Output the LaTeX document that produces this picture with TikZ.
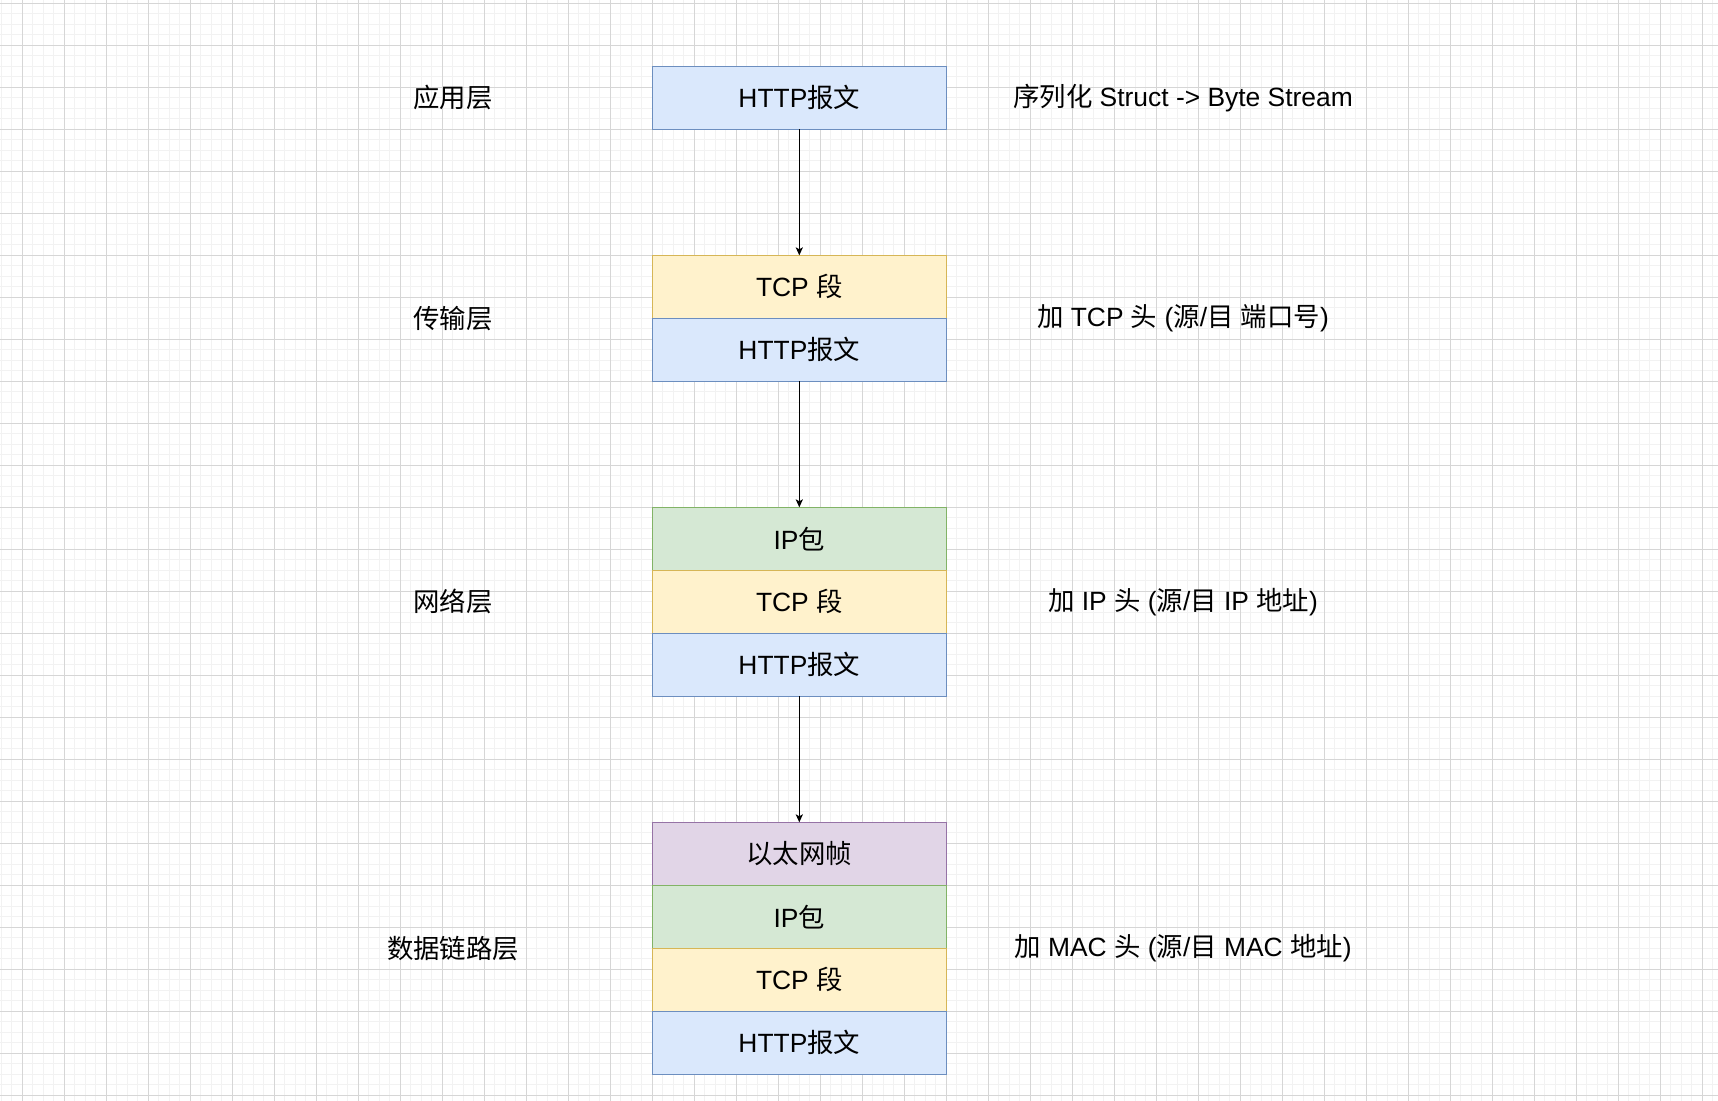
\documentclass[tikz,border=0pt]{standalone}
\usepackage{fontspec}
\setmainfont{Liberation Sans}
\newfontfamily\cjk{Noto Sans CJK SC}
\usepackage{tikz}
\usetikzlibrary{calc,positioning,arrows.meta}

\definecolor{gridminor}{RGB}{242,242,242}
\definecolor{gridmajor}{RGB}{214,214,214}
\definecolor{httpfill}{HTML}{DAE8FC}
\definecolor{httpline}{HTML}{6C8EBF}
\definecolor{tcpfill}{HTML}{FFF2CC}
\definecolor{tcpline}{HTML}{D6B656}
\definecolor{ipfill}{HTML}{D5E8D4}
\definecolor{ipline}{HTML}{82B366}
\definecolor{ethfill}{HTML}{E1D5E7}
\definecolor{ethline}{HTML}{9673A6}

\begin{document}
\begin{tikzpicture}[x=0.5pt,y=-0.5pt,
		every node/.style={font=\fontsize{13.2}{15}\selectfont},
		layer/.style={rectangle, outer sep=0pt, inner sep=0pt, line width=0.6pt,
			minimum width=147pt, minimum height=31.5pt},
		httpbox/.style={layer, draw=httpline, fill=httpfill},
		tcpbox/.style={layer, draw=tcpline, fill=tcpfill},
		ipbox/.style={layer, draw=ipline, fill=ipfill},
		ethbox/.style={layer, draw=ethline, fill=ethfill},
		lbl/.style={inner sep=0pt},
		flow/.style={-{Stealth[length=4pt,width=3.6pt,inset=1pt]}, line width=0.5pt}]
		\useasboundingbox (0,0) rectangle (1718,1101);
		\fill[white] (0,0) rectangle (1718,1101);

		% grid
		\foreach \gx in {1.3,11.8,...,1718} \draw[gridminor, line width=0.5pt] (\gx,0) -- (\gx,1101);
		\foreach \gy in {3.3,13.8,...,1101} \draw[gridminor, line width=0.5pt] (0,\gy) -- (1718,\gy);
		\foreach \gx in {22.3,64.3,...,1718} \draw[gridmajor, line width=0.5pt] (\gx,0) -- (\gx,1101);
		\foreach \gy in {3.3,45.3,...,1101} \draw[gridmajor, line width=0.5pt] (0,\gy) -- (1718,\gy);

		% application layer
		\node[httpbox] (httpA) at (799.3,97.8) {HTTP{\cjk 报文}};

		% transport layer
		\node[tcpbox] (tcpT) at (799.3,286.8) {TCP {\cjk 段}};
		\node[httpbox, below=0pt of tcpT] (httpT) {HTTP{\cjk 报文}};

		% network layer
		\node[ipbox] (ipN) at (799.3,538.8) {IP{\cjk 包}};
		\node[tcpbox, below=0pt of ipN] (tcpN) {TCP {\cjk 段}};
		\node[httpbox, below=0pt of tcpN] (httpN) {HTTP{\cjk 报文}};

		% data link layer
		\node[ethbox] (ethL) at (799.3,853.8) {{\cjk 以太网帧}};
		\node[ipbox, below=0pt of ethL] (ipL) {IP{\cjk 包}};
		\node[tcpbox, below=0pt of ipL] (tcpL) {TCP {\cjk 段}};
		\node[httpbox, below=0pt of tcpL] (httpL) {HTTP{\cjk 报文}};

		\draw[flow] (httpA) -- (tcpT);
		\draw[flow] (httpT) -- (ipN);
		\draw[flow] (httpN) -- (ethL);

		\node[lbl] (appName) at (453,97.8) {{\cjk 应用层}};
		\node[lbl] (transName) at (453,318.3) {{\cjk 传输层}};
		\node[lbl] (netName) at (453,601.8) {{\cjk 网络层}};
		\node[lbl] (linkName) at (453,948.3) {{\cjk 数据链路层}};

		\node[lbl] (appNote) at (1183,97.8) {{\cjk 序列化} Struct -> Byte Stream};
		\node[lbl] (transNote) at (1183,318.3) {{\cjk 加} TCP {\cjk 头} ({\cjk 源}/{\cjk 目} {\cjk 端口号})};
		\node[lbl] (netNote) at (1183,601.8) {{\cjk 加} IP {\cjk 头} ({\cjk 源}/{\cjk 目} IP {\cjk 地址})};
		\node[lbl] (linkNote) at (1183,948.3) {{\cjk 加} MAC {\cjk 头} ({\cjk 源}/{\cjk 目} MAC {\cjk 地址})};
	\end{tikzpicture}
\end{document}
